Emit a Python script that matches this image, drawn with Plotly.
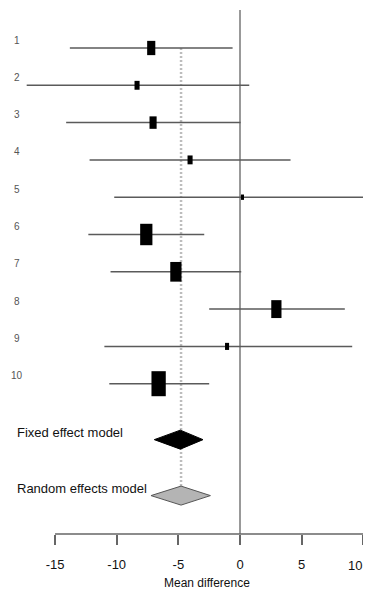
import plotly.graph_objects as go
import numpy as np

# ---- data ----
studies = ["1", "2", "3", "4", "5", "6", "7", "8", "9", "10"]
means = [-7.2, -8.35, -7.05, -4.05, 0.2, -7.6, -5.2, 2.95, -1.05, -6.6]
lower = [-13.8, -17.3, -14.1, -12.2, -10.2, -12.3, -10.5, -2.5, -11.0, -10.6]
upper = [-0.6, 0.75, 0.05, 4.1, 11.5, -2.9, 0.1, 8.5, 9.1, -2.5]
weights = [8.5, 3.3, 6.5, 3.3, 1.2, 19.2, 16.2, 13.4, 2.1, 26.2]

models = ["Fixed effect model", "Random effects model"]
model_est = [-4.84, -4.78]
model_lo = [-6.95, -7.22]
model_hi = [-3.0, -2.4]
model_fill = ["#000000", "#b4b4b4"]
model_line = ["#000000", "#555555"]

tick_vals = [-15, -10, -5, 0, 5, 10]
x_title = "Mean difference"

# ---- layout geometry (page body has an 8px margin) ----
OFF = 8
W, H = 371 - OFF, 598 - 2 * OFF
PX_PER_UNIT = 12.33
ZERO_PX = 240.0 - OFF
ROW_PX = 37.3
ROW1_PX = 48.0 - OFF
AXIS_PX = 534 - OFF
MB = H - AXIS_PX
plot_h = AXIS_PX

xr = [(0 - ZERO_PX) / PX_PER_UNIT, (W - ZERO_PX) / PX_PER_UNIT]
yr = [1 + (plot_h - ROW1_PX) / ROW_PX, 1 + (0 - ROW1_PX) / ROW_PX]

rows = list(range(1, len(studies) + 1))
model_rows = [11.5, 13.0]

fig = go.Figure()
line_col = "#5a5a5a"

# zero line
fig.add_shape(type="line", xref="x", yref="y", x0=0, x1=0,
              y0=1 + (10 - OFF - ROW1_PX) / ROW_PX, y1=yr[0],
              line=dict(color="#777777", width=1.5), layer="below")

# pooled estimate dotted line
dia_half_h = 9.5 / ROW_PX
fig.add_shape(type="line", xref="x", yref="y", x0=model_est[1], x1=model_est[1],
              y0=1, y1=model_rows[1] - dia_half_h,
              line=dict(color="#bdbdbd", width=2.5, dash="2px,2px"), layer="below")

# CI lines
for r, lo, hi in zip(rows, lower, upper):
    fig.add_trace(go.Scatter(x=[lo, hi], y=[r, r], mode="lines",
                             line=dict(color=line_col, width=1.5),
                             hoverinfo="skip", showlegend=False))

# boxes (area proportional to weight)
wmax = max(weights)
for r, m, w in zip(rows, means, weights):
    side_px = 14.3 * np.sqrt(w / wmax)
    half_x = side_px / 2 / PX_PER_UNIT
    half_y = side_px * 1.75 / 2 / ROW_PX
    fig.add_shape(type="rect", xref="x", yref="y",
                  x0=m - half_x, x1=m + half_x, y0=r - half_y, y1=r + half_y,
                  fillcolor="black", line=dict(width=0))

# diamonds
for r, e, lo, hi, fc, lc in zip(model_rows, model_est, model_lo, model_hi, model_fill, model_line):
    fig.add_trace(go.Scatter(x=[lo, e, hi, e, lo], y=[r, r - dia_half_h, r, r + dia_half_h, r],
                             mode="lines", fill="toself", fillcolor=fc,
                             line=dict(color=lc, width=1), hoverinfo="skip", showlegend=False))

font_main = "Liberation Sans, Arial, sans-serif"

# study labels
for r, s in zip(rows, studies):
    fig.add_annotation(x=(17 - OFF - ZERO_PX) / PX_PER_UNIT, y=r, yshift=8, text=s,
                       showarrow=False, xanchor="center", yanchor="middle",
                       font=dict(family=font_main, size=10, color="#555555"))

for r, s in zip(model_rows, models):
    fig.add_annotation(x=(15 - OFF - ZERO_PX) / PX_PER_UNIT, y=r, yshift=7, text=s,
                       showarrow=False, xanchor="left", yanchor="middle",
                       font=dict(family=font_main, size=13, color="#111111"))

# x axis line
fig.add_shape(type="line", xref="x", yref="paper", x0=tick_vals[0], x1=tick_vals[-1],
              y0=0, y1=0, line=dict(color="#666666", width=1.5))

# last tick label sits at the visible right edge: keep it fully readable
tick_text = [str(v) for v in tick_vals[:-1]] + [""]
fig.add_annotation(x=tick_vals[-1], xref="x", y=0, yref="paper", yshift=-31, xshift=1,
                   text=str(tick_vals[-1]), showarrow=False, xanchor="right", yanchor="middle",
                   font=dict(family=font_main, size=13, color="#111111"))

fig.add_annotation(x=-2.7, xref="x", y=0, yref="paper", yshift=-49, text=x_title,
                   showarrow=False, xanchor="center", yanchor="middle",
                   font=dict(family=font_main, size=12, color="#111111"))

fig.update_layout(
    width=W, height=H,
    margin=dict(l=0, r=0, t=0, b=MB, pad=0),
    paper_bgcolor="white", plot_bgcolor="white",
    showlegend=False,
    xaxis=dict(range=xr, showgrid=False, zeroline=False, showline=False,
               tickvals=tick_vals, ticktext=tick_text,
               ticks="outside", ticklen=10, tickwidth=1.5, tickcolor="#666666",
               ticklabelstandoff=8,
               tickfont=dict(family=font_main, size=13, color="#111111"),
               fixedrange=True),
    yaxis=dict(range=yr, visible=False, fixedrange=True),
)

fig.write_html("out.html")
